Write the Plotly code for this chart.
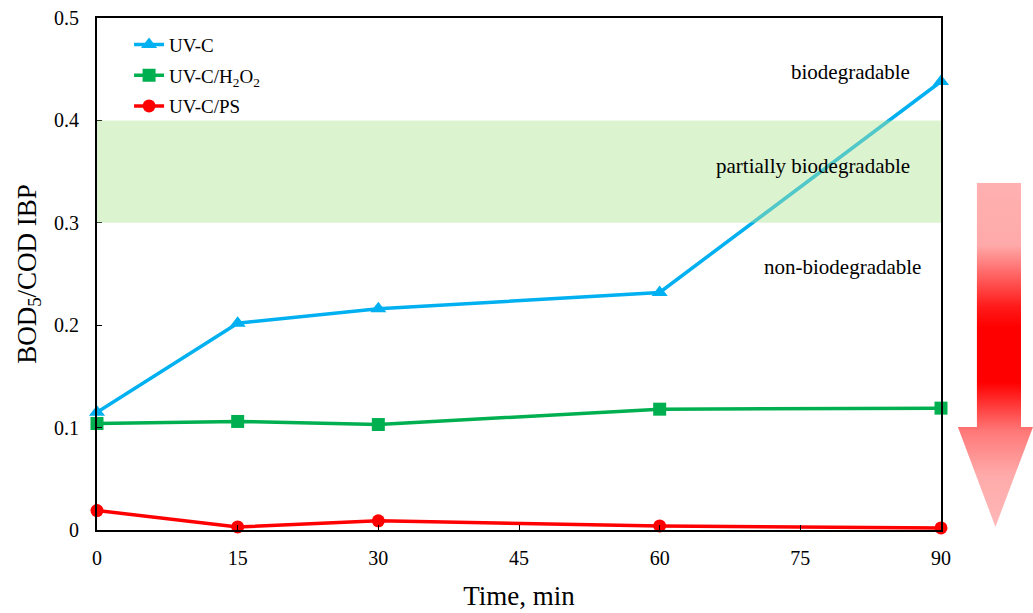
import base64

import plotly.graph_objects as go

# ------------------------------------------ data ------------------------------------------

time_min = [0, 15, 30, 60, 90]
uvc = [0.115, 0.202, 0.216, 0.232, 0.438]
uvc_h2o2 = [0.104, 0.106, 0.103, 0.118, 0.119]
uvc_ps = [0.019, 0.003, 0.009, 0.004, 0.002]

x_ticks = [0, 15, 30, 45, 60, 75, 90]
y_ticks = [0, 0.1, 0.2, 0.3, 0.4, 0.5]

band_low, band_high = 0.3, 0.4
zone_labels = ["biodegradable", "partially biodegradable", "non-biodegradable"]
zone_pos = [(80.3, 0.447), (76.4, 0.355), (79.5, 0.257)]

FONT = "Liberation Serif, Times New Roman, serif"

series = [
    ("UV-C", uvc, "#00b0f0", "triangle-up", 14),
    ("UV-C/H<sub>2</sub>O<sub>2</sub>", uvc_h2o2, "#00b050", "square", 13),
    ("UV-C/PS", uvc_ps, "#ff0000", "circle", 13),
]

fig = go.Figure()
for i, (name, values, color, symbol, size) in enumerate(series):
    fig.add_trace(
        go.Scatter(
            x=time_min,
            y=values,
            name=name,
            mode="lines+markers",
            line=dict(color=color, width=3.5),
            marker=dict(symbol=symbol, size=size, color=color),
            legendgroup=f"g{i}",
            cliponaxis=False,
        )
    )

# semi-transparent band drawn over the lines
fig.add_shape(
    type="rect",
    xref="x",
    yref="y",
    x0=time_min[0],
    x1=time_min[-1],
    y0=band_low,
    y1=band_high,
    fillcolor="rgba(178,229,151,0.45)",
    line_width=0,
    layer="above",
)

for label, (xp, yp) in zip(zone_labels, zone_pos):
    fig.add_annotation(
        x=xp, y=yp, text=label, showarrow=False,
        font=dict(family=FONT, size=21, color="black"),
    )

# gradient arrow on the right, as an svg image
arrow_svg = """<svg xmlns='http://www.w3.org/2000/svg' width='75' height='344' viewBox='0 0 75 344' preserveAspectRatio='none'>
<defs><linearGradient id='g' x1='0' y1='0' x2='0' y2='1'>
<stop offset='0' stop-color='#ffb0b0'/>
<stop offset='0.18' stop-color='#ffaaaa'/>
<stop offset='0.36' stop-color='#ff1a1a'/>
<stop offset='0.42' stop-color='#ff0000'/>
<stop offset='0.58' stop-color='#ff0000'/>
<stop offset='0.72' stop-color='#ff7777'/>
<stop offset='0.85' stop-color='#ffaaaa'/>
<stop offset='1' stop-color='#ffb8b8'/>
</linearGradient></defs>
<path d='M19 0 L63 0 L63 244 L75 244 L37.5 344 L0 244 L19 244 Z' fill='url(#g)'/>
</svg>"""
arrow_src = "data:image/svg+xml;base64," + base64.b64encode(arrow_svg.encode()).decode()
fig.add_layout_image(
    source=arrow_src,
    xref="paper",
    yref="paper",
    x=1.020,
    y=0.678,
    sizex=0.089,
    sizey=0.672,
    sizing="stretch",
    xanchor="left",
    yanchor="top",
    layer="above",
)

axis_style = dict(
    showline=True,
    linecolor="black",
    linewidth=2,
    mirror=True,
    ticks="inside",
    ticklen=5,
    tickcolor="black",
    showgrid=False,
    zeroline=False,
    automargin=False,
    tickfont=dict(family=FONT, size=20, color="black"),
)

fig.update_xaxes(
    range=[0, 90],
    tickvals=x_ticks,
    ticklabelstandoff=9,
    title=dict(text="Time, min", font=dict(family=FONT, size=27, color="black"), standoff=18),
    **axis_style,
)
fig.update_yaxes(
    range=[0, 0.5],
    tickvals=y_ticks,
    ticktext=[f"{v:g}" for v in y_ticks],
    ticklabelstandoff=12,
    title=dict(text="BOD<sub>5</sub>/COD IBP", font=dict(family=FONT, size=27, color="black"), standoff=10),
    **axis_style,
)

fig.update_layout(
    width=1033,
    height=613,
    margin=dict(l=97, r=92, t=18, b=83),
    plot_bgcolor="white",
    paper_bgcolor="white",
    legend=dict(
        x=0.038,
        y=0.985,
        xanchor="left",
        yanchor="top",
        bgcolor="rgba(0,0,0,0)",
        font=dict(family=FONT, size=19, color="black"),
        traceorder="grouped",
        tracegroupgap=3,
    ),
)

# drop the page's default body margin so the figure fills the window exactly
fig.write_html(
    "out.html",
    config={"displayModeBar": False},
    post_script="document.body.style.margin='0';document.body.style.overflow='hidden';",
)
